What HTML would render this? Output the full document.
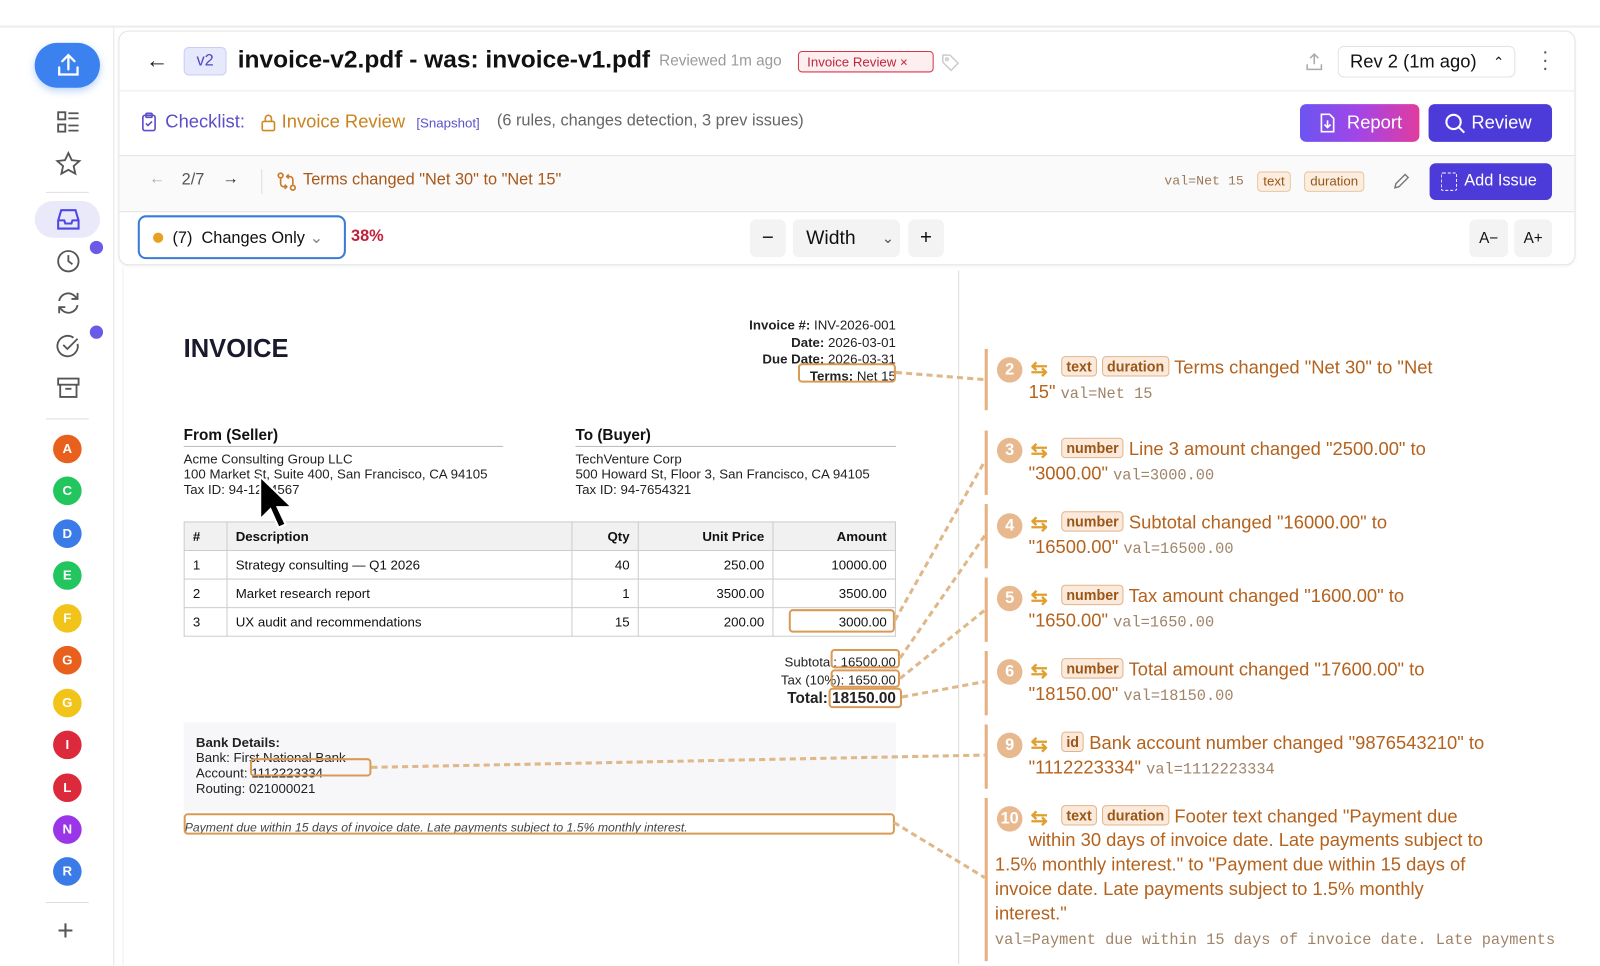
<!DOCTYPE html>
<html><head><meta charset="utf-8">
<style>
*{margin:0;padding:0;box-sizing:border-box}
html,body{width:1600px;height:966px;overflow:hidden;background:#fff}
body{font-family:"Liberation Sans",Arial,sans-serif;position:relative;color:#111}
#w{position:absolute;left:0;top:0;width:1568px;height:947px;transform:scale(1.0204);transform-origin:0 0}
.a{position:absolute;white-space:nowrap}
.av{position:absolute;left:52px;width:28px;height:28px;border-radius:50%;color:#fff;font-weight:bold;font-size:13px;text-align:center;line-height:28px}
.ic{position:absolute;left:54px;width:26px;height:26px}
.tag{display:inline-block;font-size:14px;font-weight:bold;padding:1px 4px;border:1px solid #e2b48a;background:#fbeadb;border-radius:4px;color:#9a5616;vertical-align:2px}
.ct{color:#b5621d;font-size:18px}
.mono{font-family:"Liberation Mono",monospace;color:#9a7b5e;font-size:14px}
.ct .mono,.pm{font-size:15px;color:#a08468}
.num{position:absolute;left:977px;width:25px;height:25px;border-radius:50%;background:#e8b98f;color:#fff;font-weight:bold;font-size:16px;text-align:center;line-height:25px}
.vl{position:absolute;left:965px;width:3px;background:#e6b080}
.sw{position:absolute;left:1010px;color:#e0a030;font-size:20px;font-weight:bold}
.ob{position:absolute;border:2px solid #d99a55;border-radius:4px}
.doc{font-size:13px;color:#222}
td,th{border:1px solid #ccc;font-size:13px;padding:0 8px;height:28px}
th{background:#f1f1f1;font-weight:bold}
.btn{position:absolute;background:#f3f3f3;border-radius:6px;text-align:center}
</style></head><body><div id="w">
<div class="a" style="left:0;top:25px;width:1600px;height:2px;background:#ececec"></div>
<div class="a" style="left:111px;top:27px;width:1px;height:940px;background:#e5e5e5"></div>

<div class="a" style="left:34px;top:42px;width:64px;height:44px;border-radius:22px;background:#3b82f0;box-shadow:0 3px 8px rgba(59,130,240,.35)"></div>
<svg class="a" style="left:54px;top:50px" width="26" height="28" viewBox="0 0 26 28" fill="none" stroke="#fff" stroke-width="2.2" stroke-linecap="round"><path d="M13 4v14M7 10l6-6 6 6M4 16v7h18v-7"/></svg>
<svg class="ic" style="top:107px" viewBox="0 0 26 26" fill="none" stroke="#555" stroke-width="1.8"><rect x="3" y="3" width="7" height="7"/><rect x="3" y="15" width="7" height="7"/><path d="M13 4h10M13 9h10M13 16h10M13 21h10"/></svg>
<svg class="ic" style="top:148px" viewBox="0 0 26 26" fill="none" stroke="#555" stroke-width="1.8"><path d="M13 2l3.3 7 7.5.8-5.6 5 1.6 7.4L13 18.4 6.2 22.2l1.6-7.4-5.6-5 7.5-.8z"/></svg>
<div class="a" style="left:45px;top:188px;width:42px;height:1px;background:#ddd"></div>
<div class="a" style="left:34px;top:197px;width:64px;height:36px;border-radius:18px;background:#e9e9f9"></div>
<svg class="ic" style="top:202px" viewBox="0 0 26 26" fill="none" stroke="#4f46e5" stroke-width="2"><path d="M3 14l3-10h14l3 10v8H3z M3 14h6l1 3h6l1-3h6"/></svg>
<svg class="ic" style="top:243px" viewBox="0 0 26 26" fill="none" stroke="#555" stroke-width="1.8"><circle cx="13" cy="13" r="10"/><path d="M13 7v6l4 3"/></svg>
<div class="a" style="left:88px;top:236px;width:13px;height:13px;border-radius:50%;background:#6a5ae8"></div>
<svg class="ic" style="top:284px" viewBox="0 0 26 26" fill="none" stroke="#555" stroke-width="1.8"><path d="M4 11a9 9 0 0 1 16-4l2 2M22 15a9 9 0 0 1-16 4l-2-2M22 3v6h-6M4 23v-6h6"/></svg>
<svg class="ic" style="top:326px" viewBox="0 0 26 26" fill="none" stroke="#555" stroke-width="1.8"><path d="M22 11a10 10 0 1 1-4-6"/><path d="M8 12l4 4 10-10"/></svg>
<div class="a" style="left:88px;top:319px;width:13px;height:13px;border-radius:50%;background:#6a5ae8"></div>
<svg class="ic" style="top:367px" viewBox="0 0 26 26" fill="none" stroke="#555" stroke-width="1.8"><rect x="3" y="4" width="20" height="6"/><path d="M5 10v12h16V10M10 14h6"/></svg>
<div class="a" style="left:45px;top:410px;width:42px;height:1px;background:#ddd"></div>
<div class="av" style="top:426px;background:#e8601c">A</div>
<div class="av" style="top:467px;background:#22c55e">C</div>
<div class="av" style="top:509px;background:#3b7be8">D</div>
<div class="av" style="top:550px;background:#22c55e">E</div>
<div class="av" style="top:592px;background:#f2c318">F</div>
<div class="av" style="top:633px;background:#e8601c">G</div>
<div class="av" style="top:675px;background:#f2c318">G</div>
<div class="av" style="top:716px;background:#dc2a3c">I</div>
<div class="av" style="top:758px;background:#dc2a3c">L</div>
<div class="av" style="top:799px;background:#9a36e8">N</div>
<div class="av" style="top:840px;background:#3b7be8">R</div>
<div class="a" style="left:45px;top:884px;width:42px;height:1px;background:#ddd"></div>
<div class="a" style="left:56px;top:897px;font-size:28px;color:#555;line-height:30px">+</div>

<div class="a" style="left:116px;top:30px;width:1428px;height:230px;border:1px solid #e3e3e3;border-radius:10px;box-shadow:0 1px 3px rgba(0,0,0,.05)"></div>
<div class="a" style="left:117px;top:88px;width:1426px;height:2px;background:#f4f4f4"></div>
<div class="a" style="left:117px;top:152px;width:1426px;height:56px;background:#fafafa;border-top:1px solid #e3e3e3;border-bottom:1px solid #e3e3e3"></div>

<div class="a" style="left:143px;top:46px;font-size:22px;color:#222">←</div>
<div class="a" style="left:180px;top:46px;width:42px;height:28px;background:#e6e8fb;border:1px solid #c9cdf3;border-radius:5px;color:#4f46c8;font-size:16px;text-align:center;line-height:26px">v2</div>
<div class="a" style="left:233px;top:45px;font-size:24px;font-weight:bold;color:#111">invoice-v2.pdf - was: invoice-v1.pdf</div>
<div class="a" style="left:646px;top:51px;font-size:15px;color:#9a9a9a">Reviewed 1m ago</div>
<div class="a" style="left:782px;top:50px;width:133px;height:21px;border:1px solid #d8344a;background:#fdeef0;border-radius:4px;color:#c2253a;font-size:13px;line-height:19px;padding-left:8px">Invoice Review ×</div>
<svg class="a" style="left:921px;top:51px" width="20" height="20" viewBox="0 0 20 20" fill="none" stroke="#ccc" stroke-width="1.5"><path d="M3 3h7l8 8-7 7-8-8z"/><circle cx="7" cy="7" r="1.3"/></svg>
<svg class="a" style="left:1278px;top:50px" width="20" height="20" viewBox="0 0 20 20" fill="none" stroke="#aaa" stroke-width="1.5"><path d="M10 3v10M6 7l4-4 4 4M3 13v5h14v-5"/></svg>
<div class="a" style="left:1311px;top:45px;width:174px;height:31px;border:1px solid #e3e3e3;border-radius:6px;font-size:18px;line-height:29px;padding-left:11px;color:#111">Rev 2 (1m ago)<span style="position:absolute;right:10px;font-size:13px">⌃</span></div>
<div class="a" style="left:1511px;top:47px;font-size:20px;color:#555;line-height:8px">·<br>·<br>·</div>

<svg class="a" style="left:138px;top:110px" width="16" height="20" viewBox="0 0 16 20" fill="none" stroke="#5b4fc9" stroke-width="1.6"><rect x="2" y="3" width="12" height="15" rx="2"/><rect x="5" y="1" width="6" height="4" rx="1"/><path d="M5 11l2 2 4-4"/></svg>
<div class="a" style="left:162px;top:109px;font-size:18px;color:#5b4fc9">Checklist:</div>
<svg class="a" style="left:255px;top:111px" width="16" height="18" viewBox="0 0 16 18" fill="none" stroke="#d08a25" stroke-width="1.6"><rect x="2" y="8" width="12" height="9" rx="1.5"/><path d="M5 8V5a3 3 0 0 1 6 0v3"/></svg>
<div class="a" style="left:276px;top:109px;font-size:18px;color:#c9821f">Invoice Review</div>
<div class="a" style="left:408px;top:113px;font-size:13px;color:#5b4fc9">[Snapshot]</div>
<div class="a" style="left:487px;top:110px;font-size:16px;color:#666">(6 rules, changes detection, 3 prev issues)</div>
<div class="a" style="left:1274px;top:102px;width:117px;height:37px;border-radius:6px;background:linear-gradient(90deg,#6b55f2,#a445e6,#e03c9e);color:#fff;font-size:18px;line-height:37px;padding-left:46px">Report</div>
<svg class="a" style="left:1292px;top:110px" width="18" height="21" viewBox="0 0 18 21" fill="none" stroke="#fff" stroke-width="1.6"><path d="M3 2h8l4 4v13H3z"/><path d="M9 8v7M6 12l3 3 3-3"/></svg>
<div class="a" style="left:1400px;top:102px;width:121px;height:37px;border-radius:6px;background:#4c3bd8;color:#fff;font-size:18px;line-height:37px;padding-left:42px">Review</div>
<svg class="a" style="left:1415px;top:110px" width="22" height="22" viewBox="0 0 22 22" fill="none" stroke="#fff" stroke-width="2"><circle cx="9.5" cy="9.5" r="7"/><path d="M15 15l5 5"/></svg>

<div class="a" style="left:146px;top:167px;font-size:16px;color:#aaa">←</div>
<div class="a" style="left:178px;top:168px;font-size:16px;color:#555">2/7</div>
<div class="a" style="left:218px;top:167px;font-size:16px;color:#222">→</div>
<div class="a" style="left:256px;top:166px;width:1px;height:24px;background:#ddd"></div>
<svg class="a" style="left:271px;top:168px" width="20" height="20" viewBox="0 0 20 20" fill="none" stroke="#c87a2a" stroke-width="1.6"><circle cx="4" cy="4" r="2.3"/><circle cx="16" cy="16" r="2.3"/><path d="M4 7v5a3 3 0 0 0 3 3h3M16 13V8a3 3 0 0 0-3-3h-3M8 13l2 2-2 2M12 3l-2 2 2 2"/></svg>
<div class="a" style="left:297px;top:168px;font-size:16px;color:#a8581a">Terms changed "Net 30" to "Net 15"</div>
<div class="a mono" style="left:1141px;top:170px;font-size:13px">val=Net 15</div>
<div class="a" style="left:1232px;top:168px;height:20px;border:1px solid #e9c6a0;background:#fbeee0;border-radius:4px;font-size:13px;color:#9a5616;padding:0 5px;line-height:18px">text</div>
<div class="a" style="left:1278px;top:168px;height:20px;border:1px solid #e9c6a0;background:#fbeee0;border-radius:4px;font-size:13px;color:#9a5616;padding:0 5px;line-height:18px">duration</div>
<svg class="a" style="left:1364px;top:169px" width="18" height="18" viewBox="0 0 18 18" fill="none" stroke="#777" stroke-width="1.4"><path d="M3 15l1-4 9-9 3 3-9 9z"/></svg>
<div class="a" style="left:1401px;top:160px;width:120px;height:36px;border-radius:6px;background:#4c3bd8;color:#fff;font-size:16px;line-height:36px;padding-left:34px">Add Issue</div>
<div class="a" style="left:1412px;top:169px;width:16px;height:18px;border:1.5px dashed #fff;border-radius:2px"></div>

<div class="a" style="left:135px;top:211px;width:204px;height:43px;border:2px solid #3b7bd8;border-radius:8px"></div>
<div class="a" style="left:150px;top:228px;width:10px;height:10px;border-radius:50%;background:#e8a020"></div>
<div class="a" style="left:169px;top:223px;font-size:16px;color:#111">(7)&nbsp; Changes Only <span style="color:#888">⌄</span></div>
<div class="a" style="left:344px;top:223px;font-size:16px;font-weight:bold;color:#c0213a">38%</div>
<div class="btn" style="left:735px;top:215px;width:35px;height:37px;font-size:20px;line-height:36px">−</div>
<div class="btn" style="left:777px;top:215px;width:105px;height:37px;font-size:19px;line-height:37px;text-align:left;padding-left:13px">Width <span style="position:absolute;right:6px;font-size:14px;color:#555">⌄</span></div>
<div class="btn" style="left:890px;top:215px;width:35px;height:37px;font-size:20px;line-height:36px">+</div>
<div class="btn" style="left:1440px;top:215px;width:38px;height:37px;font-size:15px;line-height:37px">A−</div>
<div class="btn" style="left:1484px;top:215px;width:37px;height:37px;font-size:15px;line-height:37px">A+</div>

<div class="a" style="left:120px;top:262px;width:1px;height:684px;background:#eee"></div>
<div class="a" style="left:939px;top:265px;width:1px;height:680px;background:#ddd"></div>
<div class="a" style="left:180px;top:328px;font-size:25px;font-weight:bold;color:#1a1a2e">INVOICE</div>
<div class="a doc" style="left:600px;top:311px;width:278px;text-align:right;line-height:16.7px"><b>Invoice #:</b> INV-2026-001<br><b>Date:</b> 2026-03-01<br><b>Due Date:</b> 2026-03-31<br><b>Terms:</b> Net 15</div>
<div class="a" style="left:180px;top:418px;font-size:15px;font-weight:bold">From (Seller)</div>
<div class="a" style="left:180px;top:437px;width:313px;height:1px;background:#bbb"></div>
<div class="a doc" style="left:180px;top:442px;line-height:15px">Acme Consulting Group LLC<br>100 Market St, Suite 400, San Francisco, CA 94105<br>Tax ID: 94-1234567</div>
<div class="a" style="left:564px;top:418px;font-size:15px;font-weight:bold">To (Buyer)</div>
<div class="a" style="left:564px;top:437px;width:314px;height:1px;background:#bbb"></div>
<div class="a doc" style="left:564px;top:442px;line-height:15px">TechVenture Corp<br>500 Howard St, Floor 3, San Francisco, CA 94105<br>Tax ID: 94-7654321</div>
<table class="a" style="left:180px;top:511px;width:698px;border-collapse:collapse">
<tr><th style="width:42px;text-align:left">#</th><th style="width:338px;text-align:left">Description</th><th style="width:65px;text-align:right">Qty</th><th style="width:132px;text-align:right">Unit Price</th><th style="text-align:right">Amount</th></tr>
<tr><td>1</td><td>Strategy consulting — Q1 2026</td><td style="text-align:right">40</td><td style="text-align:right">250.00</td><td style="text-align:right">10000.00</td></tr>
<tr><td>2</td><td>Market research report</td><td style="text-align:right">1</td><td style="text-align:right">3500.00</td><td style="text-align:right">3500.00</td></tr>
<tr><td>3</td><td>UX audit and recommendations</td><td style="text-align:right">15</td><td style="text-align:right">200.00</td><td style="text-align:right">3000.00</td></tr>
</table>
<div class="a doc" style="left:600px;top:640px;width:278px;text-align:right;line-height:18px">Subtotal: 16500.00<br>Tax (10%): 1650.00<br><b style="font-size:15px">Total: 18150.00</b></div>
<div class="a" style="left:180px;top:708px;width:698px;height:87px;background:#f7f7f9"></div>
<div class="a doc" style="left:192px;top:720px;line-height:15px"><b>Bank Details:</b><br>Bank: First National Bank<br>Account: 1112223334<br>Routing: 021000021</div>
<div class="a doc" style="left:181px;top:804px;font-style:italic;font-size:12px;color:#444">Payment due within 15 days of invoice date. Late payments subject to 1.5% monthly interest.</div>

<div class="ob" style="left:782px;top:356px;width:96px;height:19px"></div>
<div class="ob" style="left:773px;top:597px;width:104px;height:23px"></div>
<div class="ob" style="left:814px;top:636px;width:68px;height:19px"></div>
<div class="ob" style="left:814px;top:656px;width:68px;height:18px"></div>
<div class="ob" style="left:812px;top:674px;width:72px;height:20px"></div>
<div class="ob" style="left:245px;top:743px;width:119px;height:18px"></div>
<div class="ob" style="left:180px;top:797px;width:697px;height:21px"></div>

<svg class="a" style="left:0;top:0" width="1600" height="966" fill="none" stroke="#dfb88a" stroke-width="3" stroke-dasharray="6 4">
<path d="M878 365L965 372M877 608L965 452M882 645L965 525M882 665L965 598M884 683L965 668M364 752L965 740M876 806L965 860"/>
</svg>

<svg class="a" style="left:250px;top:464px" width="40" height="60" viewBox="0 0 40 60"><path d="M5 3v42l10-10 8 18 7-3-8-17h14z" fill="#000" stroke="#fff" stroke-width="2"/></svg>

<div class="vl" style="top:342px;height:60px"></div>
<div class="num" style="top:350px">2</div>
<div class="sw" style="top:349px">⇆</div>
<div class="a ct" style="left:1040px;top:349px"><span class="tag">text</span> <span class="tag">duration</span> Terms changed "Net 30" to "Net</div>
<div class="a ct" style="left:1008px;top:374px">15" <span class="mono">val=Net 15</span></div>

<div class="vl" style="top:422px;height:63px"></div>
<div class="num" style="top:429px">3</div>
<div class="sw" style="top:429px">⇆</div>
<div class="a ct" style="left:1040px;top:429px"><span class="tag">number</span> Line 3 amount changed "2500.00" to</div>
<div class="a ct" style="left:1008px;top:454px">"3000.00" <span class="mono">val=3000.00</span></div>

<div class="vl" style="top:494px;height:63px"></div>
<div class="num" style="top:503px">4</div>
<div class="sw" style="top:501px">⇆</div>
<div class="a ct" style="left:1040px;top:501px"><span class="tag">number</span> Subtotal changed "16000.00" to</div>
<div class="a ct" style="left:1008px;top:526px">"16500.00" <span class="mono">val=16500.00</span></div>

<div class="vl" style="top:566px;height:63px"></div>
<div class="num" style="top:574px">5</div>
<div class="sw" style="top:573px">⇆</div>
<div class="a ct" style="left:1040px;top:573px"><span class="tag">number</span> Tax amount changed "1600.00" to</div>
<div class="a ct" style="left:1008px;top:598px">"1650.00" <span class="mono">val=1650.00</span></div>

<div class="vl" style="top:638px;height:63px"></div>
<div class="num" style="top:646px">6</div>
<div class="sw" style="top:645px">⇆</div>
<div class="a ct" style="left:1040px;top:645px"><span class="tag">number</span> Total amount changed "17600.00" to</div>
<div class="a ct" style="left:1008px;top:670px">"18150.00" <span class="mono">val=18150.00</span></div>

<div class="vl" style="top:710px;height:63px"></div>
<div class="num" style="top:718px">9</div>
<div class="sw" style="top:717px">⇆</div>
<div class="a ct" style="left:1040px;top:717px"><span class="tag">id</span> Bank account number changed "9876543210" to</div>
<div class="a ct" style="left:1008px;top:742px">"1112223334" <span class="mono">val=1112223334</span></div>

<div class="vl" style="top:782px;height:160px"></div>
<div class="num" style="top:790px">10</div>
<div class="sw" style="top:789px">⇆</div>
<div class="a ct" style="left:1040px;top:789px"><span class="tag">text</span> <span class="tag">duration</span> Footer text changed "Payment due</div>
<div class="a ct" style="left:1008px;top:813px">within 30 days of invoice date. Late payments subject to</div>
<div class="a ct" style="left:975px;top:837px">1.5% monthly interest." to "Payment due within 15 days of</div>
<div class="a ct" style="left:975px;top:861px">invoice date. Late payments subject to 1.5% monthly</div>
<div class="a ct" style="left:975px;top:885px">interest."</div>
<div class="a mono pm" style="left:975px;top:913px">val=Payment due within 15 days of invoice date. Late payments</div>
</div></body></html>
